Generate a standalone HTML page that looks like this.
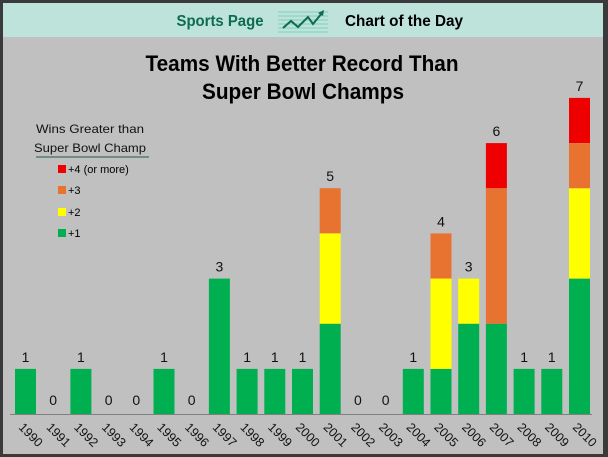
<!DOCTYPE html>
<html><head><meta charset="utf-8"><style>
html,body{margin:0;padding:0;background:#3a3a3a}
svg{display:block}
text{font-family:"Liberation Sans","DejaVu Sans",sans-serif}
</style></head><body>
<svg width="608" height="457" viewBox="0 0 608 457" xmlns="http://www.w3.org/2000/svg">
<rect x="0" y="0" width="608" height="457" fill="#3a3a3a"/>
<rect x="3" y="3" width="600" height="451" fill="#c0c0c0"/>
<rect x="3" y="3" width="600" height="34" fill="#bde3da"/>
<text x="220" y="26" font-size="16" font-weight="bold" fill="#0d6b50" text-anchor="middle" textLength="87" lengthAdjust="spacingAndGlyphs">Sports Page</text>
<g stroke="#7fcfb8" stroke-width="1">
<line x1="278" y1="12" x2="328" y2="12"/><line x1="278" y1="16" x2="328" y2="16"/><line x1="278" y1="20" x2="328" y2="20"/><line x1="278" y1="24" x2="328" y2="24"/><line x1="278" y1="28" x2="328" y2="28"/><line x1="278" y1="32" x2="328" y2="32"/></g>
<polyline points="283,28 291,21 298,27 308,17 313,24 322,13" fill="none" stroke="#0d6b50" stroke-width="2"/>
<polygon points="324,10 318,13 323,16" fill="#0d6b50"/>
<text x="404" y="26" font-size="16" font-weight="bold" fill="#000" text-anchor="middle" textLength="118" lengthAdjust="spacingAndGlyphs">Chart of the Day</text>
<text x="302" y="71" font-size="22" font-weight="bold" text-anchor="middle" textLength="313" lengthAdjust="spacingAndGlyphs">Teams With Better Record Than</text>
<text x="303" y="99" font-size="22" font-weight="bold" text-anchor="middle" textLength="202" lengthAdjust="spacingAndGlyphs">Super Bowl  Champs</text>
<text x="90" y="133" font-size="12" text-anchor="middle" fill="#111" textLength="108" lengthAdjust="spacingAndGlyphs">Wins Greater than</text>
<text x="90" y="152" font-size="12" text-anchor="middle" fill="#111" textLength="112" lengthAdjust="spacingAndGlyphs">Super Bowl Champ</text>
<line x1="36" y1="157" x2="149" y2="157" stroke="#1f5a4a" stroke-width="1"/>
<rect x="58" y="165" width="8" height="8" fill="#ee0000"/><text x="68" y="173" font-size="11">+4 (or more)</text>
<rect x="58" y="186" width="8" height="8" fill="#e87230"/><text x="68" y="194" font-size="11">+3</text>
<rect x="58" y="208" width="8" height="8" fill="#ffff00"/><text x="68" y="216" font-size="11">+2</text>
<rect x="58" y="229" width="8" height="8" fill="#00b050"/><text x="68" y="237" font-size="11">+1</text>
<g id="bars"></g>
<line x1="10" y1="414.5" x2="592" y2="414.5" stroke="#7f7f7f" stroke-width="1"/>
<g id="labels"></g>
<script>
var data=[[1],[],[1],[],[],[1],[],[3],[1],[1],[1],[2,2,1],[],[],[1],[1,2,1],[2,1],[2,0,3,1],[1],[1],[3,2,1,1]];
var cols=["#00b050","#ffff00","#e87230","#ee0000"];
var U=45.15,base=414,ns="http://www.w3.org/2000/svg";
var gb=document.getElementById("bars"),gl=document.getElementById("labels");
data.forEach(function(d,i){
 var x=15+i*27.7,y=base,tot=0;
 d.forEach(function(n,k){if(!n)return;var h=n*U;y-=h;tot+=n;
  var r=document.createElementNS(ns,"rect");r.setAttribute("x",x.toFixed(1));r.setAttribute("y",y.toFixed(1));
  r.setAttribute("width","21");r.setAttribute("height",h.toFixed(1));r.setAttribute("fill",cols[k]);gb.appendChild(r);});
 var t=document.createElementNS(ns,"text");t.setAttribute("x",(x+10.5).toFixed(1));
 t.setAttribute("y",(tot?y-7:base-9).toFixed(1));
 t.setAttribute("font-size","14");t.setAttribute("text-anchor","middle");t.setAttribute("fill","#111");
 t.textContent=tot;gb.appendChild(t);
 var l=document.createElementNS(ns,"text");var lx=x+3,ly=428;
 l.setAttribute("x",lx);l.setAttribute("y",ly);l.setAttribute("font-size","12.5");
 l.setAttribute("transform","rotate(45 "+lx+" "+ly+")");l.setAttribute("fill","#111");
 l.textContent=1990+i;gl.appendChild(l);
});
</script>
</svg>
</body></html>
